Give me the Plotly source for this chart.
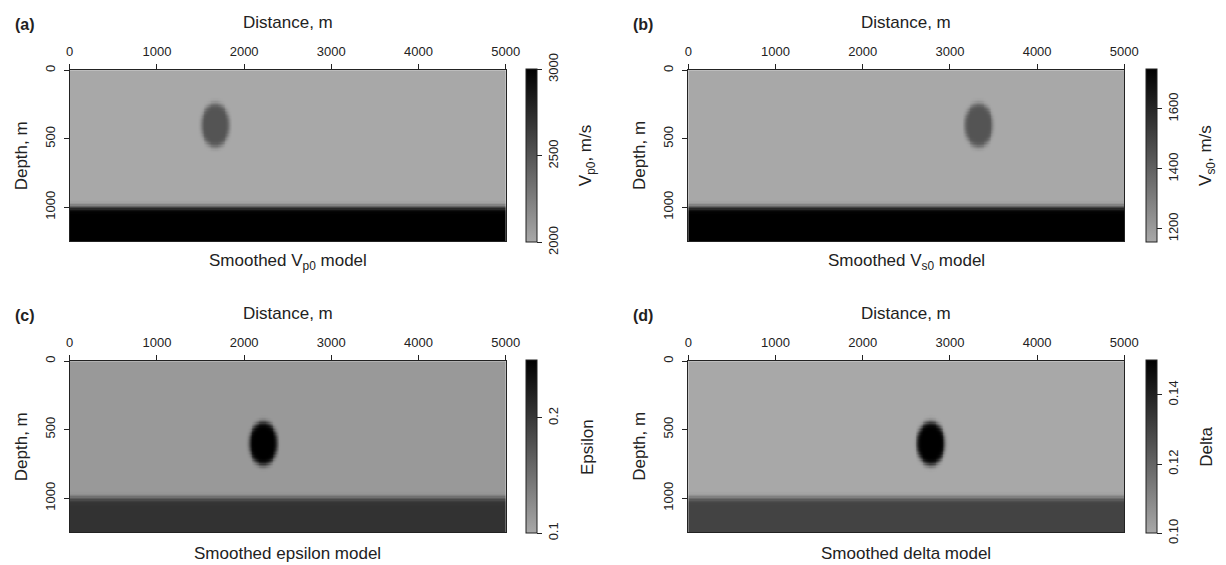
import numpy as np
import plotly.graph_objects as go

# ---- model description -------------------------------------------------
GRID_STEP = 10.0          # m
DISTANCE_MAX = 5000.0     # m
DEPTH_MAX = 1250.0        # m
INTERFACE_DEPTH = 1000.0  # m, top of the lower layer
SMOOTH_SIGMA = 20.0       # m, gaussian smoothing length

panel_letters = ["(a)", "(b)", "(c)", "(d)"]
captions = ["Smoothed V<sub>p0</sub> model", "Smoothed V<sub>s0</sub> model",
            "Smoothed epsilon model", "Smoothed delta model"]
bar_titles = ["V<sub>p0</sub>, m/s", "V<sub>s0</sub>, m/s", "Epsilon", "Delta"]

background_values = [2000.0, 1155.0, 0.113, 0.100]
layer_values = [3000.0, 1732.0, 0.205, 0.130]
anomaly_values = [2500.0, 1443.0, 0.250, 0.150]
anomaly_x = [1670.0, 3330.0, 2220.0, 2780.0]
anomaly_z = [400.0, 400.0, 600.0, 600.0]
anomaly_radius = [160.0, 160.0, 160.0, 160.0]

color_min = [2000.0, 1154.7, 0.10, 0.10]
color_max = [3000.0, 1732.1, 0.25, 0.15]
bar_tickvals = [[2000, 2500, 3000], [1200, 1400, 1600], [0.1, 0.2], [0.10, 0.12, 0.14]]
bar_ticktext = [["2000", "2500", "3000"], ["1200", "1400", "1600"],
                ["0.1", "0.2"], ["0.10", "0.12", "0.14"]]

distance_ticks = [0, 1000, 2000, 3000, 4000, 5000]
depth_ticks = [0, 500, 1000]

# ---- page geometry (pixels) -----------------------------------------------
W, H = 1226, 565
col_left = [66.7, 694.5]
plot_w = 442.5
row_top = [65.0, 359.0]
plot_h = 173.0
bar_left = [530.0, 1159.0]
bar_w = 11.0

FONT = "Liberation Sans, Arial, sans-serif"
INK = "#222222"


def fx(px):
    return px / W


def fy(py):
    return 1.0 - py / H


def gaussian_smooth(a, sigma_cells):
    half = int(np.ceil(3 * sigma_cells))
    k = np.exp(-0.5 * (np.arange(-half, half + 1) / sigma_cells) ** 2)
    k /= k.sum()
    p = np.pad(a, ((half, half), (0, 0)), mode="edge")
    a = np.apply_along_axis(lambda c: np.convolve(c, k, mode="valid"), 0, p)
    p = np.pad(a, ((0, 0), (half, half)), mode="edge")
    a = np.apply_along_axis(lambda r: np.convolve(r, k, mode="valid"), 1, p)
    return a


x = np.arange(0.0, DISTANCE_MAX + GRID_STEP / 2, GRID_STEP)
z = np.arange(0.0, DEPTH_MAX + GRID_STEP / 2, GRID_STEP)
XX, ZZ = np.meshgrid(x, z)


def build_model(i):
    m = np.full(XX.shape, background_values[i])
    inside = (XX - anomaly_x[i]) ** 2 + (ZZ - anomaly_z[i]) ** 2 <= anomaly_radius[i] ** 2
    m[inside] = anomaly_values[i]
    m[ZZ >= INTERFACE_DEPTH] = layer_values[i]
    return gaussian_smooth(m, SMOOTH_SIGMA / GRID_STEP)


gray_scale = [[0.0, "rgb(168,168,168)"], [1.0, "rgb(0,0,0)"]]

fig = go.Figure()
annotations = []

for i in range(4):
    r, c = divmod(i, 2)
    n = i + 1
    xa = "x" if n == 1 else f"x{n}"
    ya = "y" if n == 1 else f"y{n}"
    left, top = col_left[c], row_top[r]
    cy = top + plot_h / 2

    model = np.round(build_model(i), 5)
    fig.add_trace(go.Heatmap(
        x=x, y=z, z=model, xaxis=xa, yaxis=ya,
        colorscale=gray_scale, zmin=color_min[i], zmax=color_max[i],
        hoverinfo="skip",
        colorbar=dict(
            x=fx(bar_left[c]), xanchor="left", xpad=0,
            y=fy(cy), yanchor="middle", ypad=0,
            len=plot_h, lenmode="pixels",
            thickness=bar_w, thicknessmode="pixels",
            outlinewidth=1, outlinecolor=INK,
            tickmode="array", tickvals=bar_tickvals[i], ticktext=bar_ticktext[i],
            ticks="outside", ticklen=5, tickcolor=INK, tickwidth=1,
            tickangle=-90, tickfont=dict(family=FONT, size=13, color=INK),
        ),
    ))

    ax_common = dict(showline=True, linecolor=INK, linewidth=1, mirror=True,
                     ticks="outside", ticklen=5, tickcolor=INK, tickwidth=1,
                     showgrid=False, zeroline=False,
                     tickfont=dict(family=FONT, size=13, color=INK))
    fig.layout[xa.replace("x", "xaxis")] = dict(
        ax_common, domain=[fx(left), fx(left + plot_w)], anchor=ya,
        side="top", range=[0, DISTANCE_MAX], tickmode="array",
        ticklabelstandoff=3,
        tickvals=distance_ticks, ticktext=[str(t) for t in distance_ticks])
    fig.layout[ya.replace("y", "yaxis")] = dict(
        ax_common, domain=[fy(top + plot_h), fy(top)], anchor=xa,
        range=[DEPTH_MAX, 0], tickmode="array", tickangle=-90,
        ticklabelstandoff=4,
        tickvals=depth_ticks, ticktext=[str(t) for t in depth_ticks])

    title_font = dict(family=FONT, size=17, color=INK)
    annotations += [
        dict(text=panel_letters[i], x=fx(left - 58), y=fy(top - 46),
             xanchor="left", yanchor="middle",
             font=dict(family=FONT, size=16, color=INK, weight="bold")),
        dict(text="Distance, m", x=fx(left + plot_w / 2), y=fy(top - 48),
             xanchor="center", yanchor="middle", font=title_font),
        dict(text="Depth, m", x=fx(left - 49), y=fy(cy), textangle=-90,
             xanchor="center", yanchor="middle", font=title_font),
        dict(text=captions[i], x=fx(left + plot_w / 2), y=fy(top + plot_h + 21),
             xanchor="center", yanchor="middle", font=title_font),
        dict(text=bar_titles[i], x=fx(bar_left[c] + 62), y=fy(cy), textangle=-90,
             xanchor="center", yanchor="middle", font=title_font),
    ]

for a in annotations:
    a.update(xref="paper", yref="paper", showarrow=False)

fig.update_layout(
    width=W, height=H, margin=dict(l=0, r=0, t=0, b=0),
    paper_bgcolor="white", plot_bgcolor="white",
    annotations=annotations, showlegend=False,
)

fig.write_html("out.html")
